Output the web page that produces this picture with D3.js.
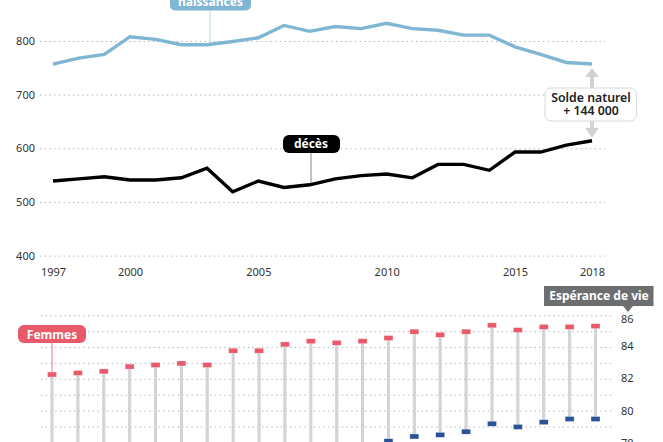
<!DOCTYPE html>
<html><head><meta charset="utf-8">
<script src="https://d3js.org/d3.v7.min.js"></script>
<style>
html,body{margin:0;padding:0;background:#fff;overflow:hidden}
svg{display:block}
text{font-family:"Noto Sans",sans-serif}
</style></head><body><svg id="c" width="663" height="442"></svg>
<script>
const years=d3.range(1997,2019);
const naissances=[757,768,775,808,803,793,793,799,806,829,818,827,823,833,823,820,811,811,789,775,760,757];
const deces=[539,543,547,541,541,545,563,519,539,527,532,543,549,552,545,570,570,559,593,593,606,614];
const femmes=[82.3,82.4,82.5,82.8,82.9,83.0,82.9,83.8,83.8,84.2,84.4,84.3,84.4,84.6,85.0,84.8,85.0,85.4,85.1,85.3,85.3,85.35];
const hommes=[74.6,74.7,74.9,75.2,75.4,75.7,75.8,76.7,76.7,77.1,77.4,77.6,77.7,78.1,78.4,78.5,78.7,79.2,79.0,79.3,79.5,79.5];
const topTicks=[400,500,600,700,800];
const xTicks=[1997,2000,2005,2010,2015,2018];
const bottomGrid=[78,79,80,81,82,83,84,85,86];
const bottomTicks=[78,80,82,84,86];
const tickColor="#333", gridColor="#b4b6b8";

const svg=d3.select("#c");
const x=d3.scaleLinear().domain([1997,2018]).range([53,592]);
const y=d3.scaleLinear().domain([400,800]).range([255.6,41]);
const x2=d3.scaleLinear().domain([1997,2018]).range([52,595.5]);
const y2=d3.scaleLinear().domain([78,86]).range([442.8,315.8]);

// top grid + axis
const gy=svg.append("g").attr("transform","translate(40,0)")
  .call(d3.axisLeft(y).tickValues(topTicks).tickSize(0).tickPadding(5).tickFormat(d3.format("d")));
gy.select(".domain").remove();
gy.selectAll("text").attr("font-size",11).attr("fill",tickColor).attr("font-family",'"Noto Sans"');
gy.selectAll(".tick").append("line").attr("x1",0).attr("x2",565)
  .attr("stroke",gridColor).attr("stroke-width",1).attr("stroke-dasharray","1.5 3.2");

const gx=svg.append("g").attr("transform","translate(0,268)")
  .call(d3.axisBottom(x).tickValues(xTicks).tickSize(0).tickPadding(0).tickFormat(d3.format("d")));
gx.select(".domain").remove();
gx.selectAll("text").attr("font-size",11).attr("fill",tickColor).attr("font-family",'"Noto Sans"');

const line=v=>d3.line().x((d,i)=>x(years[i])).y(d=>y(d))(v);
// leaders
svg.append("line").attr("x1",210).attr("x2",210).attr("y1",10).attr("y2",y(793)).attr("stroke","#b9d6e6").attr("stroke-width",1);
svg.append("line").attr("x1",311).attr("x2",311).attr("y1",150).attr("y2",y(532)).attr("stroke","#888").attr("stroke-width",1);
svg.append("path").attr("d",line(naissances)).attr("fill","none").attr("stroke","#7fb6d3").attr("stroke-width",3.4);
svg.append("path").attr("d",line(deces)).attr("fill","none").attr("stroke","#000").attr("stroke-width",3.4);

function pill(x0,y0,w,h,r,fill,txt,tx,ty,fs){
  svg.append("rect").attr("x",x0).attr("y",y0).attr("width",w).attr("height",h).attr("rx",r).attr("fill",fill);
  svg.append("text").attr("x",tx).attr("y",ty).attr("text-anchor","middle").attr("fill","#fff")
    .attr("font-size",fs).attr("font-weight",700).text(txt);
}
pill(170,-8,81,18.5,5,"#7fb6d3","naissances",210.5,6,12);
pill(283,135,57,18,6,"#000","décès",311,148,12);

// solde
const ax=592;
svg.append("rect").attr("x",ax-2).attr("y",y(757)+12).attr("width",4).attr("height",24).attr("fill","#d2d2d2");
svg.append("path").attr("d",`M${ax-7},${y(757)+13}L${ax},${y(757)+4}L${ax+7},${y(757)+13}Z`).attr("fill","#d2d2d2");
svg.append("rect").attr("x",ax-2).attr("y",y(614)-24).attr("width",4).attr("height",16).attr("fill","#d2d2d2");
svg.append("path").attr("d",`M${ax-7},${y(614)-13}L${ax},${y(614)-3}L${ax+7},${y(614)-13}Z`).attr("fill","#d2d2d2");
svg.append("rect").attr("x",545).attr("y",88).attr("width",91.5).attr("height",33).attr("rx",6).attr("fill","#fff").attr("stroke","#d8d8d8").attr("stroke-width",1);
const solde=svg.append("text").attr("text-anchor","middle").attr("font-size",12.3).attr("font-weight",600).attr("fill","#222");
solde.append("tspan").attr("x",591).attr("y",102).text("Solde naturel");
solde.append("tspan").attr("x",591).attr("y",115).text("+ 144 000");

// bottom grid
svg.append("g").selectAll("line").data(bottomGrid).join("line")
  .attr("x1",41).attr("x2",614).attr("y1",d=>y2(d)).attr("y2",d=>y2(d))
  .attr("stroke",gridColor).attr("stroke-width",1).attr("stroke-dasharray","1.5 3.2");
const gr=svg.append("g").attr("transform","translate(621,0)")
  .call(d3.axisRight(y2).tickValues(bottomTicks).tickSize(0).tickPadding(0).tickFormat(d3.format("d")));
gr.select(".domain").remove();
gr.selectAll("text").attr("font-size",11).attr("fill",tickColor).attr("font-family",'"Noto Sans"');
gr.selectAll(".tick").filter(d=>d===86).select("text").attr("dy","0.62em");
gr.selectAll(".tick").filter(d=>d===84||d===82).select("text").attr("dy","0.22em");

// lollipops
svg.append("g").selectAll("rect").data(years).join("rect")
  .attr("x",d=>x2(d)-1.6).attr("width",3.2)
  .attr("y",(d,i)=>y2(femmes[i])).attr("height",(d,i)=>y2(hommes[i])-y2(femmes[i]))
  .attr("fill","#d2d4d6");
svg.append("line").attr("x1",52).attr("x2",52).attr("y1",340).attr("y2",y2(82.3)).attr("stroke","#e8596a").attr("stroke-width",0.8);
const marks=(vals,col)=>svg.append("g").selectAll("rect").data(years).join("rect")
  .attr("x",d=>x2(d)-4.5).attr("width",9)
  .attr("y",(d,i)=>y2(vals[i])-2.5).attr("height",5)
  .attr("fill",col).attr("stroke","#fff").attr("stroke-opacity",.5).attr("stroke-width",.6);
marks(femmes,"#e8596a");
marks(hommes,"#2b5296");

pill(18,325,68,18,6,"#e8596a","Femmes",52,338.5,12);

// espérance de vie
svg.append("rect").attr("x",544).attr("y",286).attr("width",109.5).attr("height",20).attr("fill","#6d6e70");
svg.append("path").attr("d","M623,306L633,306L628,312Z").attr("fill","#6d6e70");
svg.append("text").attr("x",599).attr("y",300).attr("text-anchor","middle").attr("fill","#fff").attr("font-size",12).attr("font-weight",700).text("Espérance de vie");
</script></body></html>
